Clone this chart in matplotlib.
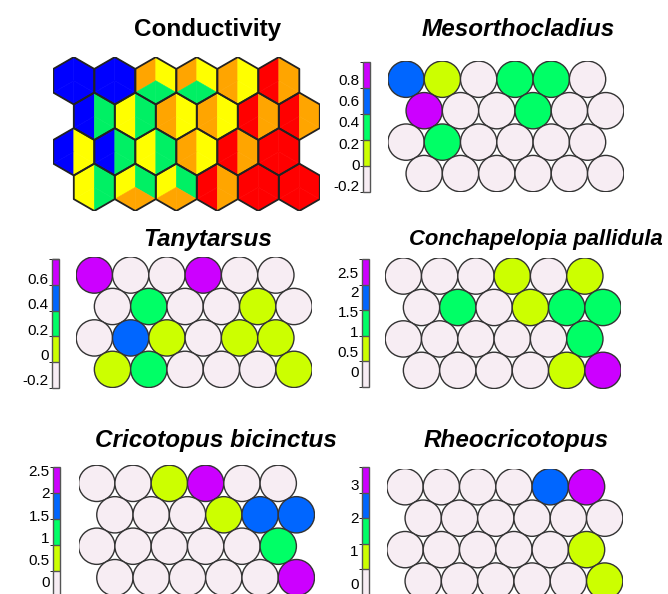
import numpy as np
import matplotlib
matplotlib.use("Agg")
import matplotlib.pyplot as plt
from matplotlib.collections import PatchCollection, PolyCollection
from matplotlib.colors import BoundaryNorm, ListedColormap
from matplotlib.cm import ScalarMappable
from matplotlib.patches import Circle

plt.rcParams["font.family"] = ["Liberation Sans", "DejaVu Sans"]
plt.rcParams["axes.unicode_minus"] = False

W, H = 668, 594
SQ = np.sqrt(3) / 2

# conductivity classes per node: 0 blue, 1 green, 2 yellow, 3 orange, 4 red
cond_left = [[0, 0, 3, 3, 3, 4],
             [0, 2, 3, 3, 4, 4],
             [0, 0, 2, 3, 4, 4],
             [2, 2, 2, 4, 4, 4]]
cond_right = [[0, 0, 2, 2, 2, 3],
              [1, 1, 2, 2, 3, 3],
              [2, 1, 1, 2, 3, 4],
              [1, 1, 1, 3, 4, 4]]
# lower wedge, None means it follows the left/right halves
cond_bottom = [[None, None, 1, 1, None, None],
               [None, None, None, None, None, None],
               [None, None, None, None, None, None],
               [None, 3, 3, None, None, None]]
cond_colors = ["#0000FF", "#00F064", "#FFFF00", "#FFA500", "#FF0000"]

# codebook values per node, rows top to bottom
meso = [[0.60, 0.11, -0.14, 0.36, 0.36, -0.14],
        [0.85, -0.14, -0.14, 0.36, -0.14, -0.14],
        [-0.14, 0.36, -0.14, -0.14, -0.14, -0.14],
        [-0.14, -0.14, -0.14, -0.14, -0.14, -0.14]]
tany = [[0.65, -0.16, -0.16, 0.65, -0.16, -0.16],
        [-0.16, 0.24, -0.16, -0.16, 0.04, -0.16],
        [-0.16, 0.45, 0.04, -0.16, 0.04, 0.04],
        [0.04, 0.24, -0.16, -0.16, -0.16, 0.04]]
concha = [[-0.07, -0.07, -0.07, 0.58, -0.07, 0.58],
          [-0.07, 1.22, -0.07, 0.58, 1.22, 1.22],
          [-0.07, -0.07, -0.07, -0.07, -0.07, 1.22],
          [-0.07, -0.07, -0.07, -0.07, 0.58, 2.50]]
crico = [[-0.05, -0.05, 0.54, 2.30, -0.05, -0.05],
         [-0.05, -0.05, -0.05, 0.54, 1.71, 1.71],
         [-0.05, -0.05, -0.05, -0.05, -0.05, 1.12],
         [-0.05, -0.05, -0.05, -0.05, -0.05, 2.30]]
rheo = [[0.06, 0.06, 0.06, 0.06, 2.37, 3.14],
        [0.06, 0.06, 0.06, 0.06, 0.06, 0.06],
        [0.06, 0.06, 0.06, 0.06, 0.06, 0.83],
        [0.06, 0.06, 0.06, 0.06, 0.06, 0.83]]
som_colors = ["#F7EDF3", "#CCFF00", "#00FF66", "#0066FF", "#CC00FF"]

fig = plt.figure(figsize=(W / 100, H / 100), dpi=100)


def px_axes(left, top, width, height):
    return fig.add_axes([left / W, 1 - (top + height) / H, width / W, height / H])


def node_xy(r, c):
    return c + 0.5 * (r % 2), -r * SQ


def hex_plot(left, top, step):
    rad = 1 / np.sqrt(3)
    ax = px_axes(left, top, 6.5 * step, (3 * SQ + 2 * rad) * step)
    pieces, classes, outlines = [], [], []
    for r in range(4):
        for c in range(6):
            x, y = node_xy(r, c)
            ctr = (x, y)
            top_v, bot_v = (x, y + rad), (x, y - rad)
            ul, ll = (x - 0.5, y + rad / 2), (x - 0.5, y - rad / 2)
            ur, lr = (x + 0.5, y + rad / 2), (x + 0.5, y - rad / 2)
            lo = cond_bottom[r][c]
            pieces += [[ctr, top_v, ul, ll], [ctr, top_v, ur, lr],
                       [ctr, ll, bot_v], [ctr, bot_v, lr]]
            classes += [cond_left[r][c], cond_right[r][c],
                        cond_left[r][c] if lo is None else lo,
                        cond_right[r][c] if lo is None else lo]
            outlines.append([top_v, ul, ll, bot_v, lr, ur])
    cmap = ListedColormap(cond_colors)
    norm = BoundaryNorm(np.arange(-0.5, 5.5, 1), cmap.N)
    fill = PolyCollection(pieces, cmap=cmap, norm=norm, edgecolors="face",
                          linewidths=0.4)
    fill.set_array(np.array(classes))
    ax.add_collection(fill)
    ax.add_collection(PolyCollection(outlines, facecolors="none",
                                     edgecolors="#222222", linewidths=1.3))
    ax.set_xlim(-0.5, 6.0)
    ax.set_ylim(-3 * SQ - rad, rad)
    ax.axis("off")


def circle_plot(values, left, top, step, vmin, vmax, cb_box, ticks, labels):
    ax = px_axes(left, top, 6.5 * step, (3 * SQ + 1) * step)
    circles, vals = [], []
    for r, row in enumerate(values):
        for c, v in enumerate(row):
            circles.append(Circle(node_xy(r, c), 0.5))
            vals.append(v)
    cmap = ListedColormap(som_colors)
    norm = BoundaryNorm(np.linspace(vmin, vmax, 6), cmap.N)
    coll = PatchCollection(circles, cmap=cmap, norm=norm,
                           edgecolors="#333333", linewidths=1.0)
    coll.set_array(np.array(vals))
    ax.add_collection(coll)
    ax.set_xlim(-0.5, 6.0)
    ax.set_ylim(-3 * SQ - 0.5, 0.5)
    ax.axis("off")

    cax = px_axes(*cb_box)
    cb = fig.colorbar(ScalarMappable(norm=norm, cmap=cmap), cax=cax,
                      ticks=ticks, drawedges=True)
    cb.ax.yaxis.set_ticks_position("left")
    cb.ax.set_yticklabels(labels)
    cb.ax.tick_params(length=0, pad=2.5, labelsize=11)
    cb.outline.set_edgecolor("#555555")
    cb.outline.set_linewidth(1.0)
    cb.dividers.set_color("#555555")
    cb.dividers.set_linewidth(1.0)


def title(text, x, y, italic=True, size=17.5):
    fig.text(x / W, 1 - y / H, text, ha="center", va="baseline",
             fontsize=size, fontweight="bold",
             fontstyle="italic" if italic else "normal")


hex_plot(53.3, 57.1, 41)
title("Conductivity", 207.5, 36, italic=False)

circle_plot(meso, 387.9, 61.1, 36.3, -0.26, 0.97, (363, 61.7, 7, 130),
            [0.8, 0.6, 0.4, 0.2, 0, -0.2],
            ["0.8", "0.6", "0.4", "0.2", "0", "-0.2"])
title("Mesorthocladius", 518, 36.5)

circle_plot(tany, 76.2, 256.9, 36.3, -0.265, 0.752, (52, 259, 7, 129),
            [0.6, 0.4, 0.2, 0, -0.2],
            ["0.6", "0.4", "0.2", "0", "-0.2"])
title("Tanytarsus", 208, 246)

circle_plot(concha, 385.2, 257.9, 36.3, -0.39, 2.83, (362, 259, 7, 128),
            [2.5, 2, 1.5, 1, 0.5, 0],
            ["2.5", "2", "1.5", "1", "0.5", "0"])
title("Conchapelopia pallidula", 536, 245, size=15.8)

circle_plot(crico, 78.6, 465.2, 36.3, -0.34, 2.59, (53, 466.7, 7, 130),
            [2.5, 2, 1.5, 1, 0.5, 0],
            ["2.5", "2", "1.5", "1", "0.5", "0"])
title("Cricotopus bicinctus", 215.5, 447)

circle_plot(rheo, 386.9, 468.6, 36.3, -0.32, 3.52, (362, 467, 7, 127.5),
            [3, 2, 1, 0], ["3", "2", "1", "0"])
title("Rheocricotopus", 516, 447.5)

fig.savefig("out.png", dpi=100)
